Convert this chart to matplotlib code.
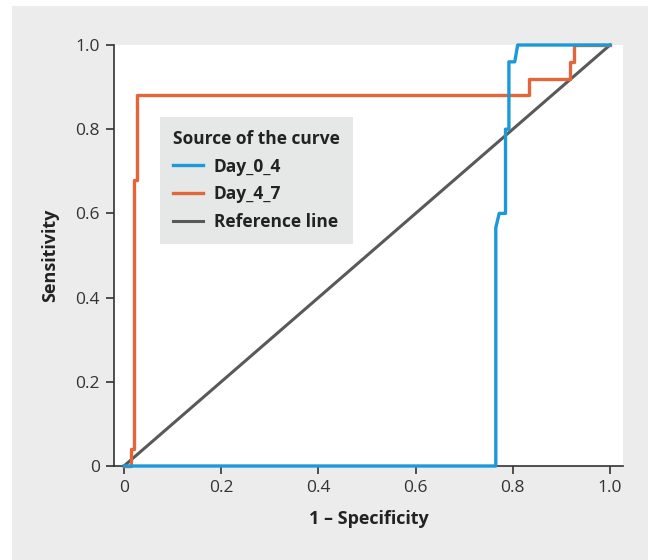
import matplotlib
import matplotlib.pyplot as plt
from matplotlib.patches import Rectangle

matplotlib.use("agg")

# ROC curves
day_0_4_x = [0, 0.765, 0.765, 0.772, 0.785, 0.785, 0.792, 0.792, 0.804, 0.81, 1.0]
day_0_4_y = [0, 0, 0.566, 0.60, 0.60, 0.80, 0.80, 0.96, 0.96, 1.0, 1.0]
day_4_7_x = [0, 0.015, 0.015, 0.02, 0.02, 0.027, 0.027, 0.833, 0.833, 0.916, 0.918, 0.918, 0.925, 0.925, 1.0]
day_4_7_y = [0, 0, 0.04, 0.04, 0.68, 0.68, 0.881, 0.881, 0.919, 0.919, 0.919, 0.96, 0.96, 1.0, 1.0]
ref_x = [0, 1]
ref_y = [0, 1]
ticks = [0, 0.2, 0.4, 0.6, 0.8, 1.0]
tick_labels = ["0", "0.2", "0.4", "0.6", "0.8", "1.0"]

plt.rcParams["font.family"] = ["Open Sans", "DejaVu Sans"]

BG = "#ebeceb"
BLUE = "#1b9ad7"
ORANGE = "#e2653b"
GREY = "#595959"
DARK = "#333333"

fig = plt.figure(figsize=(6.48, 5.6), dpi=100, facecolor="white")
fig.patches.append(Rectangle((12 / 648, 0), 1, (560 - 6) / 560,
                             transform=fig.transFigure, facecolor=BG,
                             edgecolor="none", zorder=-10))

ax = fig.add_axes([114 / 648, 94 / 560, 509 / 648, 421 / 560])
ax.set_facecolor("white")

ax.plot(day_0_4_x, day_0_4_y, color=BLUE, lw=2.4, label="Day_0_4", clip_on=False, zorder=3)
ax.plot(day_4_7_x, day_4_7_y, color=ORANGE, lw=2.4, label="Day_4_7", clip_on=False, zorder=2)
ax.plot(ref_x, ref_y, color=GREY, lw=2.2, label="Reference line", clip_on=False, zorder=1)

ax.set_xlim(-10 / 486, 1 + 13 / 486)
ax.set_ylim(0, 1)
ax.set_xticks(ticks, tick_labels)
ax.set_yticks(ticks, tick_labels)

for side in ["top", "right"]:
    ax.spines[side].set_visible(False)
for side in ["left", "bottom"]:
    ax.spines[side].set_color(DARK)
    ax.spines[side].set_linewidth(1.2)
ax.tick_params(direction="out", length=6, width=1.2, color=DARK,
               labelsize=12.5, labelcolor="#333333", pad=4)

ax.set_xlabel("1 – Specificity", fontsize=13, fontweight="bold", color="#222222", labelpad=10)
ax.set_ylabel("Sensitivity", fontsize=13, fontweight="bold", color="#222222", labelpad=12)

leg = ax.legend(loc="upper left", bbox_to_anchor=(0.09, 0.829), borderaxespad=0,
                title="Source of the curve", alignment="left", frameon=True,
                fancybox=False, facecolor="#e6e7e7", edgecolor="none", framealpha=1,
                prop={"weight": "bold", "size": 12.5}, handlelength=1.75,
                handletextpad=0.6, labelspacing=0.55, borderpad=0.75)
leg.get_title().set_fontweight("bold")
leg.get_title().set_fontsize(12.5)
for t in leg.get_texts():
    t.set_color("#222222")
leg.get_title().set_color("#222222")

fig.savefig("out.png", dpi=100, facecolor=fig.get_facecolor())
plt.close(fig)
